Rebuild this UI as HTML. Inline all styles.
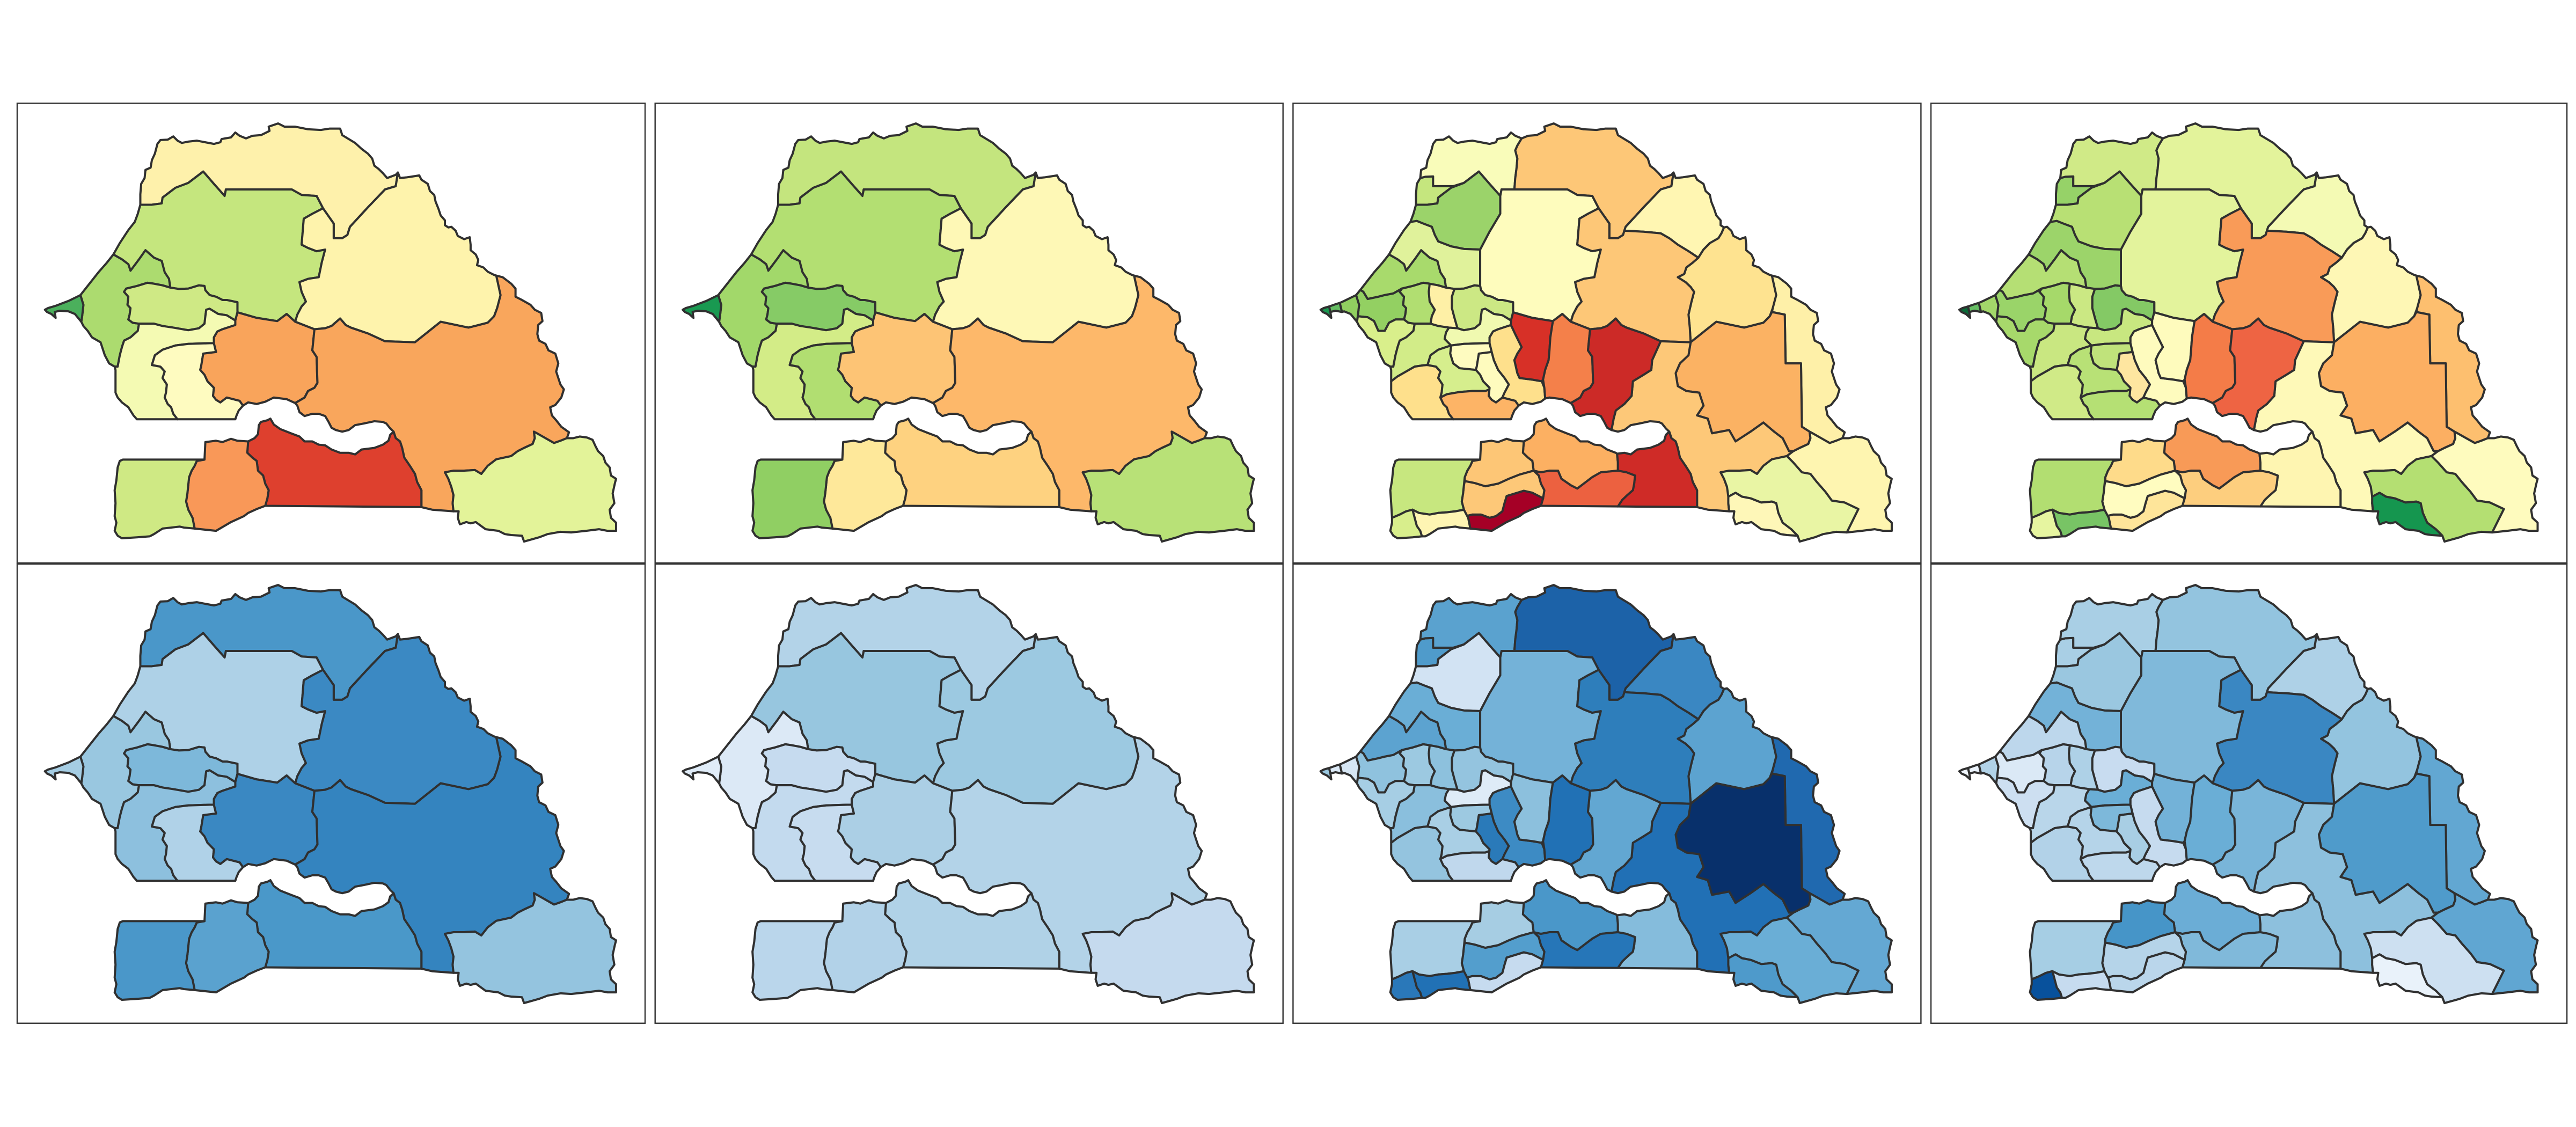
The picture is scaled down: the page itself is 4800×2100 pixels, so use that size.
<!DOCTYPE html>
<html><head><meta charset="utf-8"><style>
html,body{margin:0;padding:0;background:#fff;width:4800px;height:2100px;overflow:hidden}
svg path{vector-effect:non-scaling-stroke}
</style></head><body>
<svg xmlns="http://www.w3.org/2000/svg" width="4800" height="2100" viewBox="0 0 4800 2100">
<defs>
<path id="r1" d="M328 382 328 350 330 318 338 300 340 275 352 268 355 245 362 225 368 195 375 183 392 182 405 172 415 185 425 192 440 188 460 185 480 190 500 195 515 190 518 180 540 175 550 160 560 170 575 178 590 170 610 168 630 155 628 142 650 132 665 142 690 142 720 150 750 152 770 148 795 148 800 168 815 180 830 192 845 210 860 225 870 240 875 262 885 272 895 285 905 300 925 290 930 283 925 325 900 335 860 390 818 450 812 475 800 485 780 485 780 440 755 393 740 355 705 352 682 335 528 335 525 355 500 318 475 280 455 300 440 315 410 330 395 345 380 360 378 378 355 382Z"/>
<path id="r2" d="M328 382 355 382 378 378 380 360 395 345 410 330 440 315 455 300 475 280 500 318 525 355 528 335 682 335 705 352 740 355 755 393 730 410 710 425 705 505 720 515 740 525 760 520 752 560 745 605 720 610 700 620 705 650 715 680 705 695 695 720 690 742 670 718 648 740 600 730 555 713 555 682 530 675 520 675 505 665 490 660 480 645 478 632 465 630 440 640 418 641 398 637 395 610 385 590 378 555 360 545 340 522 325 550 305 585 300 565 285 550 265 535 280 500 300 460 315 435 322 410Z"/>
<path id="r3" d="M930 283 935 300 950 298 965 295 980 292 985 305 1000 318 1005 340 1015 352 1018 372 1025 395 1030 415 1040 430 1040 445 1048 452 1055 450 1065 462 1070 478 1085 488 1098 482 1100 505 1100 522 1112 535 1118 552 1115 568 1130 575 1140 588 1155 598 1160 600 1165 630 1170 660 1162 700 1155 725 1140 745 1095 760 1030 742 970 805 900 802 860 778 820 760 808 752 795 732 775 755 760 762 735 765 690 742 695 720 705 695 715 680 705 650 700 620 720 610 745 605 752 560 760 520 740 525 720 515 705 505 710 425 730 410 755 393 780 440 780 485 800 485 812 475 818 450 860 390 900 335 925 325Z"/>
<path id="r4" d="M188 660 200 640 230 590 250 560 265 535 285 550 300 565 305 585 325 550 340 522 360 545 378 555 385 590 395 610 398 637 380 630 360 625 345 622 320 632 295 640 290 650 300 665 298 690 305 700 303 720 300 735 310 745 325 748 322 770 305 790 290 800 285 820 280 845 275 880 268 880 255 870 245 845 240 825 235 805 215 790 205 770 195 755 190 742 192 725 195 690Z"/>
<path id="r5" d="M105 705 112 700 130 693 160 678 188 660 195 690 192 725 190 742 175 718 160 710 140 708 128 712 130 730 120 718 110 712Z"/>
<path id="r6" d="M295 640 320 632 345 622 360 625 380 630 398 637 418 641 440 640 465 630 478 632 480 645 490 660 505 665 520 675 530 675 555 682 555 713 550 738 530 722 510 718 490 702 482 705 480 725 478 748 465 762 440 768 405 760 380 755 360 748 325 748 310 745 300 735 303 720 305 700 298 690 300 665 290 650Z"/>
<path id="r7" d="M325 748 360 748 380 755 405 760 440 768 465 762 478 748 480 725 482 705 490 702 510 718 530 722 550 738 550 752 520 765 508 772 500 790 500 808 490 808 440 810 410 815 380 828 362 845 355 875 375 880 385 895 380 915 390 935 388 960 385 975 392 995 400 1005 405 1025 415 1042 320 1042 312 1030 300 1005 285 990 275 975 270 960 270 890 268 880 275 880 280 845 285 820 290 800 305 790 322 770Z"/>
<path id="r8" d="M500 808 505 835 475 840 470 880 468 890 478 905 485 925 500 945 498 970 505 982 515 990 530 975 560 985 568 1000 558 1015 553 1030 550 1042 415 1042 405 1025 400 1005 392 995 385 975 388 960 390 935 380 915 385 895 375 880 355 875 362 845 380 828 410 815 440 810 490 808Z"/>
<path id="r9" d="M555 713 600 730 648 740 670 718 690 742 735 765 730 830 740 850 742 930 735 945 720 955 712 975 690 992 670 980 640 975 620 988 600 995 580 990 568 1000 560 985 530 975 515 990 505 982 498 970 500 945 485 925 478 905 468 890 470 880 475 840 505 835 500 808 500 790 508 772 520 765 550 752 550 738Z"/>
<path id="r10" d="M735 765 760 762 775 755 795 732 808 752 820 760 860 778 900 802 970 805 1030 742 1095 760 1140 745 1155 725 1162 700 1170 660 1165 630 1160 600 1175 605 1195 625 1205 640 1205 665 1220 675 1240 690 1250 705 1265 715 1268 740 1258 752 1256 780 1260 800 1275 810 1282 830 1298 840 1305 870 1300 895 1310 935 1318 950 1312 975 1298 998 1286 1005 1290 1030 1300 1045 1312 1065 1330 1082 1325 1100 1310 1108 1295 1115 1275 1100 1255 1085 1248 1080 1250 1100 1245 1118 1225 1130 1210 1140 1195 1155 1160 1165 1140 1185 1125 1210 1110 1198 1085 1200 1060 1200 1040 1205 1048 1225 1055 1250 1060 1275 1058 1300 1060 1325 1010 1320 985 1312 985 1260 975 1235 970 1210 958 1185 945 1160 940 1130 935 1110 925 1100 920 1080 912 1070 903 1055 895 1050 875 1048 850 1055 830 1060 815 1075 800 1080 785 1075 775 1068 768 1050 760 1032 745 1025 730 1025 712 1032 700 1020 695 1000 690 992 712 975 720 955 735 945 742 930 740 850 730 830Z"/>
<path id="r11" d="M1325 1100 1340 1100 1355 1095 1372 1098 1385 1105 1392 1125 1398 1140 1410 1155 1415 1175 1425 1190 1428 1215 1440 1225 1437 1240 1432 1270 1436 1300 1425 1320 1428 1345 1440 1360 1440 1385 1420 1385 1400 1380 1370 1385 1335 1390 1310 1388 1280 1395 1260 1405 1225 1418 1220 1400 1195 1398 1180 1395 1165 1385 1135 1380 1112 1358 1100 1362 1090 1358 1075 1365 1070 1345 1072 1325 1060 1325 1058 1300 1060 1275 1055 1250 1048 1225 1040 1205 1060 1200 1085 1200 1110 1198 1125 1210 1140 1185 1160 1165 1195 1155 1210 1140 1225 1130 1245 1118 1250 1100 1248 1080 1255 1085 1275 1100 1295 1115 1310 1108Z"/>
<path id="r12" d="M580 1110 595 1100 603 1088 605 1060 610 1050 625 1045 632 1040 640 1058 655 1072 680 1085 700 1095 712 1110 730 1110 745 1120 760 1122 775 1135 795 1145 815 1145 830 1150 845 1135 875 1130 895 1120 908 1108 912 1090 920 1080 925 1100 935 1110 940 1130 945 1160 958 1185 970 1210 975 1235 985 1260 985 1312 620 1308 625 1285 628 1260 620 1240 615 1215 603 1200 600 1170 590 1160 578 1145Z"/>
<path id="r13" d="M478 1166 480 1112 505 1108 520 1112 540 1102 555 1108 580 1110 578 1145 590 1160 600 1170 603 1200 615 1215 620 1240 628 1260 625 1285 620 1308 600 1318 580 1330 570 1340 540 1358 505 1385 455 1378 450 1345 440 1320 435 1295 438 1270 440 1245 442 1220 448 1200 455 1185 460 1170Z"/>
<path id="r14" d="M287 1166 478 1166 460 1170 455 1185 448 1200 442 1220 440 1245 438 1270 435 1295 440 1320 450 1345 455 1378 430 1375 420 1372 400 1375 380 1378 360 1395 350 1402 320 1405 285 1408 275 1400 268 1385 272 1360 268 1340 270 1300 268 1260 272 1230 275 1190 280 1170Z"/>

<path id="a1" d="M328 382 328 350 330 318 338 300 350 296 368 295 368 325 415 325 410 330 395 345 380 360 378 378 355 382Z"/>
<path id="a2" d="M338 300 340 275 352 268 355 245 362 225 368 195 375 183 392 182 405 172 415 185 425 192 440 188 460 185 480 190 500 195 515 190 518 180 540 175 550 160 560 170 575 178 565 200 560 215 565 240 563 270 560 300 558 335 528 335 525 355 500 318 475 280 455 300 440 315 415 325 368 325 368 295 350 296Z"/>
<path id="a3" d="M575 178 590 170 610 168 630 155 628 142 650 132 665 142 690 142 720 150 750 152 770 148 795 148 800 168 815 180 830 192 845 210 860 225 870 240 875 262 885 272 895 285 905 300 925 290 930 283 925 325 900 335 860 390 818 450 812 475 800 485 780 485 780 440 755 393 740 355 705 352 682 335 558 335 560 300 563 270 565 240 560 215 565 200Z"/>
<path id="b1" d="M328 382 355 382 378 378 380 360 395 345 410 330 440 315 455 300 475 280 500 318 525 355 525 410 500 465 478 520 440 518 410 510 380 495 372 475 365 450 345 440 330 432 315 435 322 410Z"/>
<path id="b2" d="M315 435 330 432 345 440 365 450 372 475 380 495 410 510 440 518 478 520 478 632 465 630 440 640 418 641 398 637 395 610 385 590 378 555 360 545 340 522 325 550 305 585 300 565 285 550 265 535 280 500 300 460Z"/>
<path id="b3" d="M525 355 528 335 682 335 705 352 740 355 755 393 730 410 710 425 705 505 720 515 740 525 760 520 752 560 745 605 720 610 700 620 705 650 715 680 705 695 695 720 690 742 670 718 648 740 600 730 555 713 555 682 530 675 520 675 505 665 490 660 480 645 478 632 478 520 500 465 525 410Z"/>
<path id="c1" d="M930 283 935 300 950 298 965 295 980 292 985 305 1000 318 1005 340 1015 352 1018 372 1025 395 1030 415 1040 430 1040 445 1048 452 1042 470 1035 485 1015 500 1000 520 988 545 965 525 940 505 920 485 900 470 860 465 815 462 818 450 860 390 900 335 925 325Z"/>
<path id="c2" d="M1048 452 1055 450 1065 462 1070 478 1085 488 1098 482 1100 505 1100 522 1112 535 1118 552 1115 568 1130 575 1140 588 1155 598 1160 600 1165 630 1170 660 1162 700 1155 725 1140 745 1095 760 1030 742 970 805 968 760 965 720 972 680 978 650 970 635 958 620 940 605 955 595 960 575 975 560 988 545 1000 520 1015 500 1035 485 1042 470Z"/>
<path id="c3" d="M755 393 780 440 780 485 800 485 812 475 815 462 860 465 900 470 920 485 940 505 965 525 988 545 975 560 960 575 955 595 940 605 958 620 970 635 978 650 972 680 965 720 968 760 970 805 900 802 860 778 820 760 808 752 795 732 775 755 760 762 735 765 690 742 695 720 705 695 715 680 705 650 700 620 720 610 745 605 752 560 760 520 740 525 720 515 705 505 710 425 730 410Z"/>
<path id="e1" d="M198 644 230 590 250 560 265 535 285 550 300 565 305 585 325 550 340 522 360 545 378 555 385 590 395 610 398 637 380 630 360 625 345 622 320 632 295 640 275 655 255 660 240 665 215 672 205 650Z"/>
<path id="e2" d="M188 660 198 644 205 650 215 672 240 665 255 660 275 655 295 640 290 650 300 665 298 690 305 700 303 720 300 735 280 735 265 745 255 770 240 770 230 740 215 728 192 725 195 690Z"/>
<path id="e3" d="M192 725 215 728 230 740 240 770 255 770 265 745 280 735 300 735 310 745 325 748 322 770 305 790 290 800 285 820 280 845 275 880 268 880 255 870 245 845 240 825 235 805 215 790 205 770 195 755 190 742Z"/>
<path id="f1" d="M105 705 112 700 125 695 128 712 130 730 120 718 110 712Z"/>
<path id="f2" d="M125 695 140 688 150 684 155 712 140 708 128 712Z"/>
<path id="f3" d="M150 684 160 678 188 660 195 690 192 725 190 742 175 718 160 710 155 712Z"/>
<path id="g1" d="M295 640 320 632 345 622 360 625 358 650 360 680 372 705 365 725 362 748 325 748 310 745 300 735 303 720 305 700 298 690 300 665 290 650Z"/>
<path id="g2" d="M360 625 380 630 398 637 418 641 412 665 412 700 418 730 425 762 405 760 380 755 362 748 365 725 372 705 360 680 358 650Z"/>
<path id="g3" d="M418 641 440 640 465 630 478 632 480 645 490 660 505 665 520 675 530 675 555 682 555 713 550 738 530 722 510 718 490 702 482 705 480 725 478 748 465 762 440 768 425 762 418 730 412 700 412 665Z"/>
<path id="h1" d="M405 760 425 762 440 768 465 762 478 748 480 725 482 705 490 702 510 718 530 722 550 738 550 752 520 765 508 772 500 790 500 808 490 808 440 810 410 815 395 795 398 775Z"/>
<path id="h2" d="M325 748 362 748 380 755 405 760 398 775 395 795 410 815 380 828 362 845 355 875 345 876 325 880 305 895 285 910 270 925 270 890 268 880 275 880 280 845 285 820 290 800 305 790 322 770Z"/>
<path id="h3" d="M270 925 285 910 305 895 325 880 345 876 355 875 375 880 385 895 380 915 390 935 388 960 385 975 392 995 400 1005 405 1025 415 1042 320 1042 312 1030 300 1005 285 990 275 975 270 960Z"/>
<path id="i1" d="M410 815 440 810 490 808 500 808 505 835 475 840 470 880 468 890 430 885 415 870 408 840Z"/>
<path id="i2" d="M410 815 408 840 415 870 430 885 468 890 478 905 485 925 500 945 500 950 490 955 460 955 430 958 400 965 385 975 388 960 390 935 380 915 385 895 375 880 355 875 362 845 380 828Z"/>
<path id="i3" d="M385 975 400 965 430 958 460 955 490 955 500 950 498 970 505 982 515 990 530 975 560 985 568 1000 558 1015 553 1030 550 1042 415 1042 405 1025 400 1005 392 995Z"/>
<path id="j1" d="M505 835 510 860 520 890 535 915 545 935 535 960 530 975 515 990 505 982 498 970 500 945 485 925 478 905 468 890 470 880 475 840Z"/>
<path id="j2" d="M550 752 560 780 575 820 565 840 558 860 565 900 570 915 600 920 622 925 628 945 630 978 620 988 600 995 580 990 568 1000 560 985 530 975 535 960 545 935 535 915 520 890 510 860 505 835 500 808 500 790 508 772 520 765Z"/>
<path id="j3" d="M555 713 600 730 648 740 642 790 640 830 638 860 630 890 625 920 622 925 600 920 570 915 565 900 558 860 565 840 575 820 560 780 550 752 550 738Z"/>
<path id="j4" d="M648 740 670 718 690 742 735 765 730 830 740 850 742 930 735 945 720 955 712 975 690 992 670 980 640 975 630 978 628 945 625 920 630 890 638 860 640 830 642 790Z"/>
<path id="k1" d="M1160 600 1175 605 1195 625 1205 640 1205 665 1220 675 1240 690 1250 705 1265 715 1268 740 1258 752 1256 780 1260 800 1275 810 1282 830 1298 840 1305 870 1300 895 1310 935 1318 950 1312 975 1298 998 1286 1005 1290 1030 1300 1045 1312 1065 1330 1082 1325 1100 1310 1108 1295 1115 1275 1100 1255 1085 1248 1080 1230 1065 1228 870 1192 870 1190 720 1160 712 1162 700 1170 660 1165 630Z"/>
<path id="k2" d="M970 805 1030 742 1095 760 1140 745 1155 725 1160 712 1190 720 1192 870 1228 870 1230 1065 1248 1080 1250 1100 1245 1118 1225 1130 1210 1140 1200 1140 1185 1100 1165 1080 1140 1052 1110 1080 1075 1110 1060 1075 1020 1085 1010 1040 985 1030 1000 1000 990 960 960 955 940 940 935 900 945 870 965 845Z"/>
<path id="k3" d="M900 802 970 805 965 845 945 870 935 900 940 940 960 955 990 960 1000 1000 985 1030 1010 1040 1020 1085 1060 1075 1075 1110 1110 1080 1140 1052 1165 1080 1185 1100 1200 1140 1210 1140 1195 1155 1160 1165 1140 1185 1125 1210 1110 1198 1085 1200 1060 1200 1040 1205 1048 1225 1055 1250 1060 1275 1058 1300 1060 1325 1010 1320 985 1312 985 1260 975 1235 970 1210 958 1185 945 1160 940 1130 935 1110 925 1100 920 1080 912 1070 903 1055 895 1050 875 1048 850 1055 830 1060 815 1075 800 1080 785 1075 790 1040 795 1015 815 995 832 970 835 925 860 905 878 890 880 860Z"/>
<path id="k4" d="M735 765 760 762 775 755 795 732 808 752 820 760 860 778 900 802 880 860 878 890 860 905 835 925 832 970 815 995 795 1015 790 1040 785 1075 775 1068 768 1050 760 1032 745 1025 730 1025 712 1032 700 1020 695 1000 690 992 712 975 720 955 735 945 742 930 740 850 730 830Z"/>
<path id="l1" d="M1325 1100 1340 1100 1355 1095 1372 1098 1385 1105 1392 1125 1398 1140 1410 1155 1415 1175 1425 1190 1428 1215 1440 1225 1437 1240 1432 1270 1436 1300 1425 1320 1428 1345 1440 1360 1440 1385 1420 1385 1400 1380 1370 1385 1335 1390 1350 1350 1362 1318 1330 1298 1300 1292 1285 1265 1265 1235 1250 1210 1230 1205 1210 1175 1195 1155 1210 1140 1225 1130 1245 1118 1250 1100 1248 1080 1255 1085 1275 1100 1295 1115 1310 1108Z"/>
<path id="l2" d="M1195 1155 1210 1175 1230 1205 1250 1210 1265 1235 1285 1265 1300 1292 1330 1298 1362 1318 1350 1350 1335 1390 1310 1388 1280 1395 1260 1405 1225 1418 1220 1400 1205 1380 1185 1360 1175 1330 1170 1300 1160 1295 1135 1298 1110 1285 1090 1280 1075 1268 1058 1280 1055 1250 1048 1225 1040 1205 1060 1200 1085 1200 1110 1198 1125 1210 1140 1185 1160 1165Z"/>
<path id="l3" d="M1058 1280 1075 1268 1090 1280 1110 1285 1135 1298 1160 1295 1170 1300 1175 1330 1185 1360 1205 1380 1220 1400 1195 1398 1180 1395 1165 1385 1135 1380 1112 1358 1100 1362 1090 1358 1075 1365 1070 1345 1072 1325 1060 1325 1058 1300Z"/>
<path id="m1" d="M632 1040 640 1058 655 1072 680 1085 700 1095 712 1110 730 1110 745 1120 760 1122 775 1135 795 1145 798 1148 800 1175 800 1200 760 1205 740 1220 722 1238 705 1255 690 1245 668 1225 660 1200 640 1200 620 1205 603 1200 600 1170 590 1160 578 1145 580 1110 595 1100 603 1088 605 1060 610 1050 625 1045Z"/>
<path id="m2" d="M798 1148 815 1145 830 1150 845 1135 875 1130 895 1120 908 1108 912 1090 920 1080 925 1100 935 1110 940 1130 945 1160 958 1185 970 1210 975 1235 985 1260 985 1312 800 1310 810 1290 822 1275 835 1260 838 1240 840 1215 820 1205 800 1200 800 1175Z"/>
<path id="m3" d="M603 1200 620 1205 640 1200 660 1200 668 1225 690 1245 705 1255 722 1238 740 1220 760 1205 800 1200 820 1205 840 1215 838 1240 835 1260 822 1275 810 1290 800 1310 620 1308 625 1285 628 1260 620 1240 615 1215Z"/>
<path id="n1" d="M478 1166 480 1112 505 1108 520 1112 540 1102 555 1108 580 1110 578 1145 590 1160 600 1170 603 1200 570 1212 545 1225 520 1240 490 1248 465 1238 442 1232 442 1220 448 1200 455 1185 460 1170Z"/>
<path id="n2" d="M442 1232 465 1238 490 1248 520 1240 545 1225 570 1212 603 1200 615 1215 620 1240 628 1260 625 1285 600 1268 580 1262 560 1270 540 1278 535 1300 530 1325 515 1340 500 1345 480 1335 460 1335 445 1340 440 1320 435 1295 438 1270 440 1245Z"/>
<path id="n3" d="M445 1340 460 1335 480 1335 500 1345 515 1340 530 1325 535 1300 540 1278 560 1270 580 1262 600 1268 625 1285 620 1308 600 1318 580 1330 570 1340 540 1358 505 1385 455 1378 450 1345Z"/>
<path id="o1" d="M287 1166 478 1166 460 1170 455 1185 448 1200 442 1220 440 1245 438 1270 435 1295 440 1320 420 1325 400 1328 380 1330 360 1335 335 1330 320 1320 305 1325 290 1335 272 1345 270 1300 268 1260 272 1230 275 1190 280 1170Z"/>
<path id="o2" d="M272 1345 290 1335 305 1325 320 1320 325 1345 330 1370 338 1385 342 1402 320 1405 285 1408 275 1400 268 1385 272 1360Z"/>
<path id="o3" d="M320 1320 335 1330 360 1335 380 1330 400 1328 420 1325 440 1320 450 1345 455 1378 430 1375 420 1372 400 1375 380 1378 360 1395 350 1402 342 1402 338 1385 330 1370 325 1345Z"/>
</defs>

<rect x="0" y="0" width="4800" height="2100" fill="#ffffff"/>

<g stroke="#303030" stroke-width="4" stroke-linejoin="round">
<!-- Panel 1 -->
<g transform="translate(0,150) scale(0.79719,0.60586)">
<use href="#r1" fill="#fef1ab"/><use href="#r2" fill="#c5e67e"/><use href="#r3" fill="#fef3ac"/><use href="#r4" fill="#acdb6f"/><use href="#r5" fill="#4bb05c"/><use href="#r6" fill="#cfe985"/><use href="#r7" fill="#f4fab3"/><use href="#r8" fill="#fefbc0"/><use href="#r9" fill="#f9a45b"/><use href="#r10" fill="#f9a65c"/><use href="#r11" fill="#e3f399"/><use href="#r12" fill="#de402e"/><use href="#r13" fill="#f99858"/><use href="#r14" fill="#cfe984"/>
</g>
<!-- Panel 2 -->
<g transform="translate(1188.5,150) scale(0.79719,0.60586)">
<use href="#r1" fill="#c4e57e"/><use href="#r2" fill="#b3df72"/><use href="#r3" fill="#fef8b6"/><use href="#r4" fill="#a2d86a"/><use href="#r5" fill="#199951"/><use href="#r6" fill="#86cb66"/><use href="#r7" fill="#d3ec87"/><use href="#r8" fill="#b1de71"/><use href="#r9" fill="#fdc475"/><use href="#r10" fill="#fdb86a"/><use href="#r11" fill="#b8e177"/><use href="#r12" fill="#fed280"/><use href="#r13" fill="#fee89a"/><use href="#r14" fill="#90cf63"/>
</g>
<!-- Panel 3 -->
<g transform="translate(2377,150) scale(0.79719,0.60586)">
<use href="#a1" fill="#c5e67e"/><use href="#a2" fill="#f9fcba"/><use href="#a3" fill="#fdc777"/>
<use href="#b1" fill="#9bd36a"/><use href="#b2" fill="#e0f29b"/><use href="#b3" fill="#fefcbd"/>
<use href="#c1" fill="#fff6b2"/><use href="#c2" fill="#fee390"/><use href="#c3" fill="#fdc777"/>
<use href="#e1" fill="#a8da6c"/><use href="#e2" fill="#93d062"/><use href="#e3" fill="#d9ef8b"/>
<use href="#f1" fill="#1a9850"/><use href="#f2" fill="#66bd63"/><use href="#f3" fill="#91cf60"/>
<use href="#g1" fill="#b1de71"/><use href="#g2" fill="#fef0a6"/><use href="#g3" fill="#cce884"/>
<use href="#h1" fill="#f0f9b0"/><use href="#h2" fill="#d2ec88"/><use href="#h3" fill="#fee08c"/>
<use href="#i1" fill="#fefbc0"/><use href="#i2" fill="#d6ee8d"/><use href="#i3" fill="#fdb466"/>
<use href="#j1" fill="#fefbbe"/><use href="#j2" fill="#fee08c"/><use href="#j3" fill="#d73027"/><use href="#j4" fill="#f4804a"/>
<use href="#k1" fill="#fef0a8"/><use href="#k2" fill="#fbb263"/><use href="#k3" fill="#fdc878"/><use href="#k4" fill="#cc2a27"/>
<use href="#l1" fill="#fef5b0"/><use href="#l2" fill="#e9f5a4"/><use href="#l3" fill="#fef7b8"/>
<use href="#m1" fill="#fcb062"/><use href="#m2" fill="#cf2b27"/><use href="#m3" fill="#ec6140"/>
<use href="#n1" fill="#fdc676"/><use href="#n2" fill="#fdc878"/><use href="#n3" fill="#a50026"/>
<use href="#o1" fill="#c7e77f"/><use href="#o2" fill="#d8ee8c"/><use href="#o3" fill="#fef5b3"/>
</g>
<!-- Panel 4 -->
<g transform="translate(3566.2,150) scale(0.80716,0.60586)">
<use href="#a1" fill="#96d268"/><use href="#a2" fill="#d0ea87"/><use href="#a3" fill="#e3f39b"/>
<use href="#b1" fill="#b8e074"/><use href="#b2" fill="#9cd46a"/><use href="#b3" fill="#e3f39c"/>
<use href="#c1" fill="#f4fab4"/><use href="#c2" fill="#fef7b5"/><use href="#c3" fill="#f99b58"/>
<use href="#e1" fill="#b5df74"/><use href="#e2" fill="#9ad469"/><use href="#e3" fill="#a7d96b"/>
<use href="#f1" fill="#0a6b38"/><use href="#f2" fill="#66bd63"/><use href="#f3" fill="#a3d86a"/>
<use href="#g1" fill="#a6d96a"/><use href="#g2" fill="#cbe883"/><use href="#g3" fill="#84c965"/>
<use href="#h1" fill="#c8e780"/><use href="#h2" fill="#c9e781"/><use href="#h3" fill="#d0ea87"/>
<use href="#i1" fill="#c0e37b"/><use href="#i2" fill="#b8e176"/><use href="#i3" fill="#b5e074"/>
<use href="#j1" fill="#fee6a0"/><use href="#j2" fill="#fefbbe"/><use href="#j3" fill="#fefbbd"/><use href="#j4" fill="#f47c48"/>
<use href="#k1" fill="#fdbf6f"/><use href="#k2" fill="#fcaf62"/><use href="#k3" fill="#fef9b8"/><use href="#k4" fill="#ee6443"/>
<use href="#l1" fill="#fefbbe"/><use href="#l2" fill="#b4df72"/><use href="#l3" fill="#15964f"/>
<use href="#m1" fill="#f89a57"/><use href="#m2" fill="#fef5b1"/><use href="#m3" fill="#fdce7e"/>
<use href="#n1" fill="#fedb8a"/><use href="#n2" fill="#fffcc0"/><use href="#n3" fill="#fee59a"/>
<use href="#o1" fill="#b2de71"/><use href="#o2" fill="#e6f5a0"/><use href="#o3" fill="#78c465"/>
</g>
<!-- Panel 5 -->
<g transform="translate(0,1010) scale(0.79719,0.60586)">
<use href="#r1" fill="#4a97c9"/><use href="#r2" fill="#aed1e7"/><use href="#r3" fill="#3b89c3"/><use href="#r4" fill="#99c7e0"/><use href="#r5" fill="#a5cde3"/><use href="#r6" fill="#7db8da"/><use href="#r7" fill="#8dc0de"/><use href="#r8" fill="#b0d2e8"/><use href="#r9" fill="#3a88c2"/><use href="#r10" fill="#3484bf"/><use href="#r11" fill="#94c4df"/><use href="#r12" fill="#4a98c9"/><use href="#r13" fill="#5aa2cf"/><use href="#r14" fill="#4a97c9"/>
</g>
<!-- Panel 6 -->
<g transform="translate(1188.5,1010) scale(0.79719,0.60586)">
<use href="#r1" fill="#b3d3e8"/><use href="#r2" fill="#97c6df"/><use href="#r3" fill="#9cc9e1"/><use href="#r4" fill="#dce9f6"/><use href="#r5" fill="#e0ecf8"/><use href="#r6" fill="#c6dbef"/><use href="#r7" fill="#c3daee"/><use href="#r8" fill="#c7dcef"/><use href="#r9" fill="#abcfe5"/><use href="#r10" fill="#b3d3e8"/><use href="#r11" fill="#c5daee"/><use href="#r12" fill="#b0d2e7"/><use href="#r13" fill="#b2d2e8"/><use href="#r14" fill="#bad6eb"/>
</g>
<!-- Panel 7 -->
<g transform="translate(2377,1010) scale(0.79719,0.60586)">
<use href="#a1" fill="#4f9bcb"/><use href="#a2" fill="#5aa2cf"/><use href="#a3" fill="#1c62a8"/>
<use href="#b1" fill="#d2e3f3"/><use href="#b2" fill="#6aaed6"/><use href="#b3" fill="#74b2d8"/>
<use href="#c1" fill="#3a87c2"/><use href="#c2" fill="#5ca3d0"/><use href="#c3" fill="#2e7ebb"/>
<use href="#e1" fill="#5ca3d0"/><use href="#e2" fill="#8fc2de"/><use href="#e3" fill="#a6cee4"/>
<use href="#f1" fill="#9ac8e0"/><use href="#f2" fill="#dbe9f6"/><use href="#f3" fill="#d6e6f4"/>
<use href="#g1" fill="#9cc9e1"/><use href="#g2" fill="#8dc1dd"/><use href="#g3" fill="#94c4df"/>
<use href="#h1" fill="#deebf7"/><use href="#h2" fill="#8abfdd"/><use href="#h3" fill="#94c4df"/>
<use href="#i1" fill="#9dc9e1"/><use href="#i2" fill="#a9cfe5"/><use href="#i3" fill="#c0d8ed"/>
<use href="#j1" fill="#2a7ab9"/><use href="#j2" fill="#3d8bc4"/><use href="#j3" fill="#8cc0dd"/><use href="#j4" fill="#2171b5"/>
<use href="#k1" fill="#2069af"/><use href="#k2" fill="#08306b"/><use href="#k3" fill="#2170b5"/><use href="#k4" fill="#62a7d2"/>
<use href="#l1" fill="#64a8d3"/><use href="#l2" fill="#6aaed6"/><use href="#l3" fill="#4e9acb"/>
<use href="#m1" fill="#4a97c9"/><use href="#m2" fill="#85bcdc"/><use href="#m3" fill="#2676b8"/>
<use href="#n1" fill="#a6cde3"/><use href="#n2" fill="#539ecd"/><use href="#n3" fill="#c6dbef"/>
<use href="#o1" fill="#a9cfe5"/><use href="#o2" fill="#2a78b9"/><use href="#o3" fill="#2171b5"/>
</g>
<!-- Panel 8 -->
<g transform="translate(3566.2,1010) scale(0.80716,0.60586)">
<use href="#a1" fill="#a9cfe5"/><use href="#a2" fill="#a9cfe5"/><use href="#a3" fill="#93c4df"/>
<use href="#b1" fill="#9ac7e0"/><use href="#b2" fill="#73b2d8"/><use href="#b3" fill="#80b9da"/>
<use href="#c1" fill="#aed1e7"/><use href="#c2" fill="#93c4df"/><use href="#c3" fill="#3a87c2"/>
<use href="#e1" fill="#bdd7ec"/><use href="#e2" fill="#dbe9f6"/><use href="#e3" fill="#cddff1"/>
<use href="#f1" fill="#f0f6fc"/><use href="#f2" fill="#eaf2fb"/><use href="#f3" fill="#b1d2e7"/>
<use href="#g1" fill="#b7d4ea"/><use href="#g2" fill="#aed1e7"/><use href="#g3" fill="#c8dcf0"/>
<use href="#h1" fill="#6aaed6"/><use href="#h2" fill="#b9d6ea"/><use href="#h3" fill="#b2d2e8"/>
<use href="#i1" fill="#7db8da"/><use href="#i2" fill="#b5d4e9"/><use href="#i3" fill="#bed8ec"/>
<use href="#j1" fill="#a8cee4"/><use href="#j2" fill="#c6dbef"/><use href="#j3" fill="#73b2d8"/><use href="#j4" fill="#6aaed6"/>
<use href="#k1" fill="#62a7d2"/><use href="#k2" fill="#4f9bcb"/><use href="#k3" fill="#8dc0dd"/><use href="#k4" fill="#79b5d9"/>
<use href="#l1" fill="#60a6d2"/><use href="#l2" fill="#cde0f1"/><use href="#l3" fill="#e9f2fa"/>
<use href="#m1" fill="#6badd6"/><use href="#m2" fill="#8dc0dd"/><use href="#m3" fill="#80b9da"/>
<use href="#n1" fill="#4695c8"/><use href="#n2" fill="#b5d4e9"/><use href="#n3" fill="#bad6eb"/>
<use href="#o1" fill="#a6cee4"/><use href="#o2" fill="#08519c"/><use href="#o3" fill="#c6dbef"/>
</g>
</g>

<!-- Panel frames -->
<g fill="none" stroke="#333333" stroke-width="2.4">
<rect x="32" y="192.5" width="1170" height="856.5"/>
<rect x="1220.7" y="192.5" width="1170" height="856.5"/>
<rect x="2409.4" y="192.5" width="1170" height="856.5"/>
<rect x="3598.1" y="192.5" width="1185" height="856.5"/>
<rect x="32" y="1051" width="1170" height="855.7"/>
<rect x="1220.7" y="1051" width="1170" height="855.7"/>
<rect x="2409.4" y="1051" width="1170" height="855.7"/>
<rect x="3598.1" y="1051" width="1185" height="855.7"/>
</g>
</svg>
</body></html>
